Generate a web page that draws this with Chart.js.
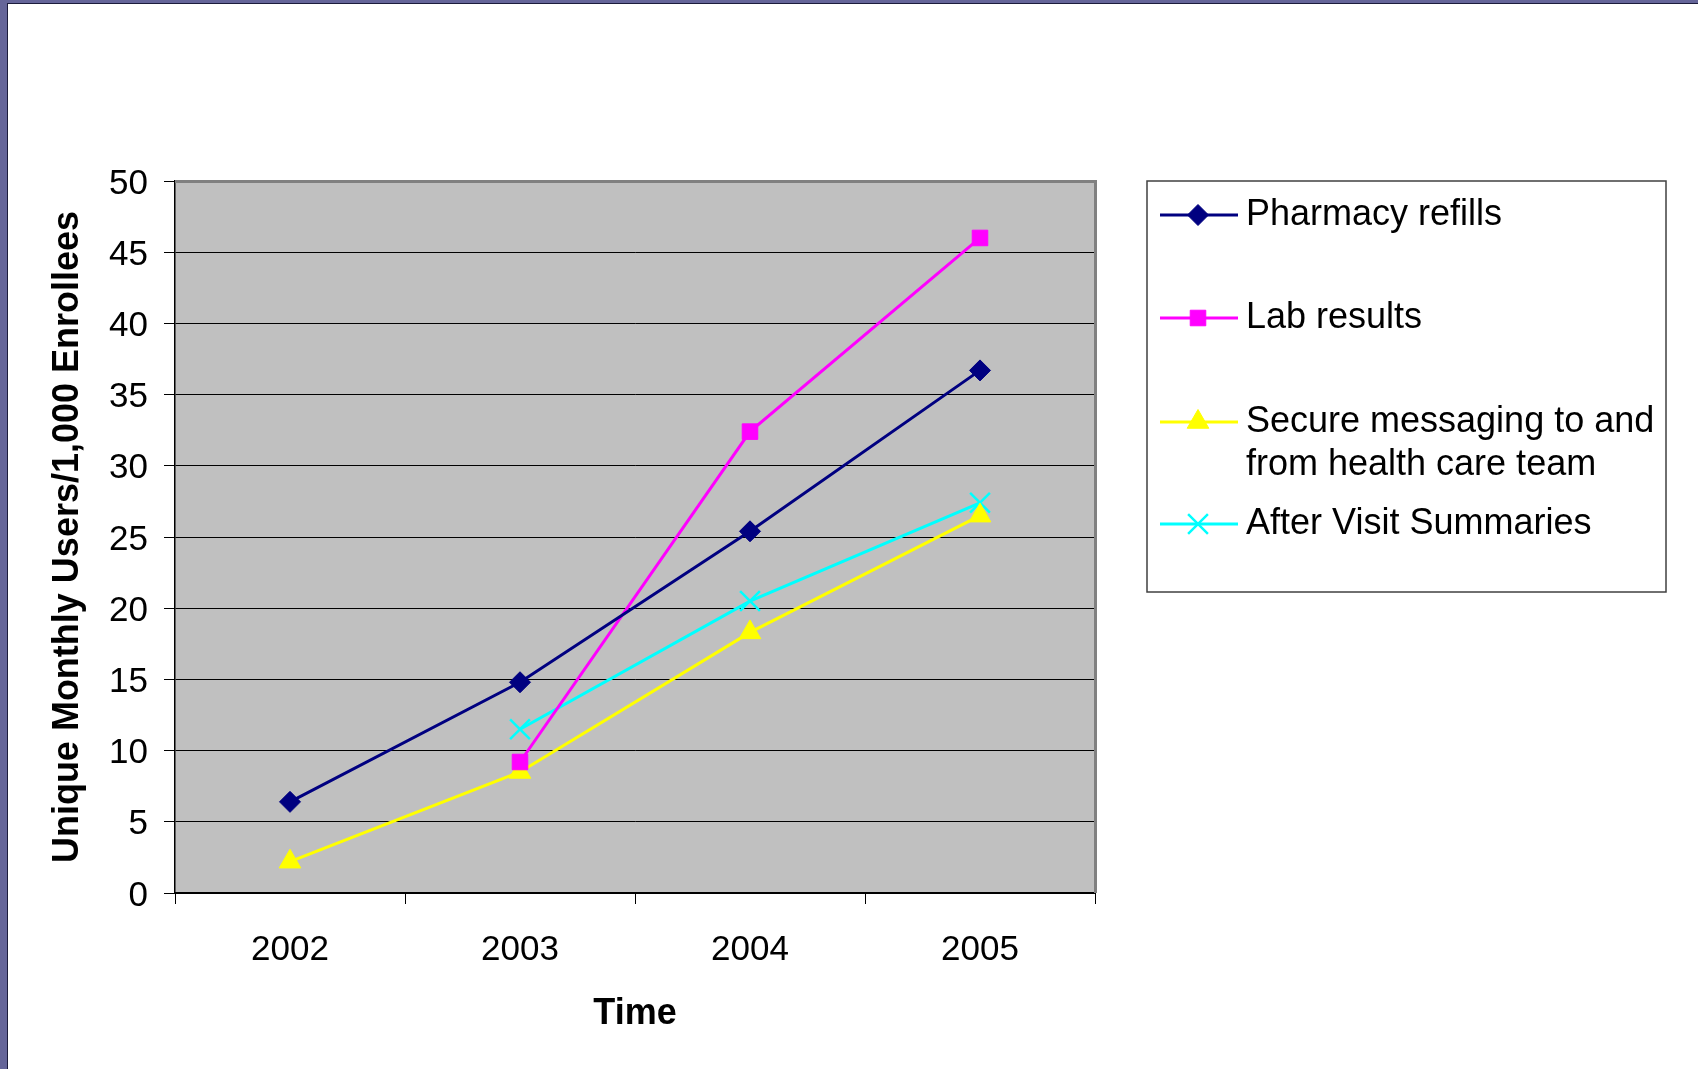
<!DOCTYPE html>
<html>
<head>
<meta charset="utf-8">
<script src="https://cdn.jsdelivr.net/npm/chart.js@4/dist/chart.umd.min.js"></script>
<style>
  html, body { margin: 0; padding: 0; background: #fff; overflow: hidden; }
  #wrap { position: relative; width: 1698px; height: 1069px; }
  canvas { position: absolute; left: 0; top: 0; }
  #frame { position: absolute; left: 0; top: 0; width: 1698px; height: 1069px; box-sizing: border-box;
           border-left: 7px solid #656599; border-top: 3px solid #656599; pointer-events: none; }
  #frame2 { position: absolute; left: 7px; top: 3px; width: 1691px; height: 1066px; box-sizing: border-box;
           border-left: 1px solid #1c1c3c; border-top: 1px solid #1c1c3c; pointer-events: none; }
</style>
</head>
<body>
<div id="wrap">
  <canvas id="c" width="1698" height="1069" style="width:1698px;height:1069px"></canvas>
  <div id="frame"></div>
  <div id="frame2"></div>
</div>
<script>
// ---- data ----
const years = ["2002", "2003", "2004", "2005"];
const pharmacyRefills = [6.4, 14.8, 25.4, 36.7];
const labResults = [null, 9.2, 32.4, 46.0];
const secureMessaging = [2.2, 8.5, 18.3, 26.5];
const afterVisitSummaries = [null, 11.5, 20.5, 27.4];
const seriesNames = ["Pharmacy refills", "Lab results", "Secure messaging to and from health care team", "After Visit Summaries"];
const yTitle = "Unique Monthly Users/1,000 Enrollees";
const xTitle = "Time";

const FONT = "'Liberation Sans', Arial, Helvetica, sans-serif";

// ---- layout constants ----
const L = {
  plotLeft: 175, plotRight: 1095, plotTop: 181, plotBottom: 893,
  legendBox: { left: 1147, top: 181, right: 1666, bottom: 592 },
  legendRowY: [215, 318, 422, 524],
  legendLineX0: 1160, legendLineX1: 1238, legendMarkerX: 1198, legendTextX: 1246,
  legendLineH: 43
};

const plotBg = {
  id: 'plotBg',
  beforeDraw(chart) {
    const { ctx, chartArea: a } = chart;
    ctx.save();
    ctx.fillStyle = '#C0C0C0';
    ctx.fillRect(a.left, a.top, a.right - a.left, a.bottom - a.top);
    ctx.restore();
  },
  beforeDatasetsDraw(chart) {
    const { ctx, chartArea: a } = chart;
    ctx.save();
    ctx.strokeStyle = '#808080';
    ctx.lineWidth = 3;
    ctx.beginPath();
    ctx.moveTo(a.left, a.top + 0.5);
    ctx.lineTo(a.right + 0.5, a.top + 0.5);
    ctx.lineTo(a.right + 0.5, a.bottom);
    ctx.stroke();
    ctx.restore();
  }
};

function drawMarker(ctx, style, r, x, y, color, bw) {
  if (Chart.helpers && Chart.helpers.drawPoint) {
    ctx.fillStyle = color; ctx.strokeStyle = color; ctx.lineWidth = bw;
    Chart.helpers.drawPoint(ctx, { pointStyle: style, radius: r, rotation: 0, borderWidth: bw }, x, y);
  }
}

const boxLegend = {
  id: 'boxLegend',
  afterDraw(chart) {
    const { ctx } = chart;
    const b = L.legendBox;
    ctx.save();
    ctx.fillStyle = '#fff';
    ctx.fillRect(b.left, b.top, b.right - b.left, b.bottom - b.top);
    ctx.strokeStyle = '#404040';
    ctx.lineWidth = 1.5;
    ctx.strokeRect(b.left, b.top, b.right - b.left, b.bottom - b.top);
    ctx.font = '36px ' + FONT;
    ctx.textBaseline = 'middle';
    ctx.textAlign = 'left';
    const maxW = b.right - L.legendTextX - 4;
    chart.data.datasets.forEach((ds, i) => {
      const y = L.legendRowY[i];
      ctx.strokeStyle = ds.borderColor;
      ctx.lineWidth = ds.borderWidth;
      ctx.beginPath();
      ctx.moveTo(L.legendLineX0, y);
      ctx.lineTo(L.legendLineX1, y);
      ctx.stroke();
      drawMarker(ctx, ds.pointStyle, ds.pointRadius, L.legendMarkerX, y, ds.borderColor, ds.pointBorderWidth);
      const words = ds.label.split(' ');
      const lines = [];
      let cur = '';
      words.forEach(w => {
        const t = cur ? cur + ' ' + w : w;
        if (ctx.measureText(t).width > maxW && cur) { lines.push(cur); cur = w; } else cur = t;
      });
      if (cur) lines.push(cur);
      ctx.fillStyle = '#000';
      lines.forEach((ln, k) => ctx.fillText(ln, L.legendTextX, y + k * L.legendLineH));
    });
    ctx.restore();
  }
};

const colors = ['#000080', '#FF00FF', '#FFFF00', '#00FFFF'];
const styles = ['rectRot', 'rect', 'triangle', 'crossRot'];
const radii = [10.5, 11, 12.5, 14];
const values = [pharmacyRefills, labResults, secureMessaging, afterVisitSummaries];

new Chart(document.getElementById('c'), {
  type: 'line',
  data: {
    labels: years,
    datasets: values.map((v, i) => ({
      label: seriesNames[i],
      data: v,
      borderColor: colors[i],
      backgroundColor: colors[i],
      pointBackgroundColor: colors[i],
      pointBorderColor: colors[i],
      borderWidth: 3,
      pointStyle: styles[i],
      pointRadius: radii[i],
      pointBorderWidth: i === 3 ? 2.5 : 1,
      tension: 0,
      fill: false
    }))
  },
  options: {
    responsive: false,
    animation: false,
    devicePixelRatio: 1,
    layout: { padding: { left: 0, top: L.plotTop, right: 1698 - L.plotRight, bottom: 0 } },
    plugins: { legend: { display: false }, tooltip: { enabled: false } },
    scales: {
      x: {
        type: 'category',
        offset: true,
        grid: { offset: true, drawOnChartArea: false, drawTicks: true, tickLength: 11, color: '#000', lineWidth: 1 },
        border: { display: true, color: '#000', width: 2 },
        ticks: { color: '#000', font: { family: FONT, size: 35 }, padding: 25, maxRotation: 0 },
        title: { display: true, text: xTitle, color: '#000', font: { family: FONT, size: 36, weight: 'bold' }, padding: { top: 0, bottom: 33 } },
        afterFit(s) { s.height = 1069 - L.plotBottom; }
      },
      y: {
        min: 0, max: 50,
        ticks: { stepSize: 5, color: '#000', font: { family: FONT, size: 35 }, padding: 16, labelOffset: 3 },
        grid: { color: '#000', lineWidth: 1, tickLength: 11, drawTicks: true },
        border: { display: true, color: '#000', width: 1.5 },
        title: { display: true, text: yTitle, color: '#000', font: { family: FONT, size: 36, weight: 'bold' }, padding: { top: 46, bottom: 0 } },
        afterFit(s) { s.width = L.plotLeft; }
      }
    }
  },
  plugins: [plotBg, boxLegend]
});
</script>
</body>
</html>
